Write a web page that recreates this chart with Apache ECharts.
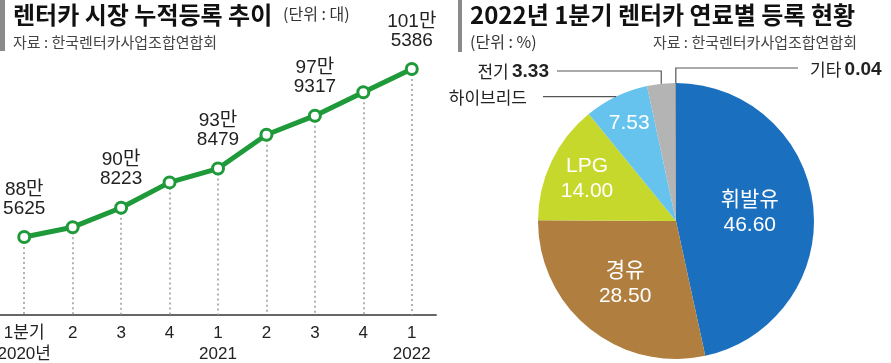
<!DOCTYPE html>
<html><head><meta charset="utf-8">
<script src="https://cdn.jsdelivr.net/npm/echarts@6/dist/echarts.min.js"></script>
<style>html,body{margin:0;padding:0;background:#fff}#c{width:891px;height:363px}</style>
</head><body><div id="c"></div>
<script>
// ---- data ----
const quarters = ['1분기\n2020년', '2', '3', '4', '1\n2021', '2', '3', '4', '1\n2022'];
const registrations = [885625, 893200, 908223, 927800, 938479, 964600, 979317, 997400, 1015386];
const labeledQuarters = [0, 2, 4, 6, 8];
const fuelNames = ['휘발유', '경유', 'LPG', '하이브리드', '전기', '기타'];
const fuelShares = [46.60, 28.50, 14.00, 7.53, 3.33, 0.04];

// ---- styles ----
const fuelColors = ['#1a6fbe', '#b07f40', '#c6d82c', '#66c3ee', '#b4b4b4', '#333333'];
const LAT = "'Liberation Sans', 'Noto Sans CJK KR', sans-serif";
const KR = "'Noto Sans CJK KR', sans-serif";
const GREEN = '#1f9a3a';
const yMin = 825380, yMax = 1022340;
const pieCenter = [676, 221];
const insideScale = [1.03, 1.12, 1.37, 1.5];

const chart = echarts.init(document.getElementById('c'), null, {renderer: 'canvas'});

const dropLines = registrations.map((v, i) => [
  {coord: [i, v]}, {coord: [i, yMin]}
]);

function manLabel(v) {
  return Math.floor(v / 10000) + '만\n' + (v % 10000);
}

const option = {
  animation: false,
  backgroundColor: '#fff',
  grid: {left: 0, right: 891 - 436, top: 60, bottom: 48, containLabel: false, outerBoundsMode: 'none'},
  xAxis: {
    type: 'category', data: quarters, boundaryGap: true,
    axisLine: {lineStyle: {color: '#666', width: 2}},
    axisTick: {show: false},
    axisLabel: {color: '#222', fontSize: 17, lineHeight: 21, fontFamily: LAT, margin: 8, interval: 0, hideOverlap: false}
  },
  yAxis: {type: 'value', min: yMin, max: yMax, show: false, splitLine: {show: false}},
  series: [
    {
      type: 'line', data: registrations, z: 3,
      lineStyle: {color: GREEN, width: 5},
      symbol: 'circle', symbolSize: 11,
      itemStyle: {color: '#fff', borderColor: GREEN, borderWidth: 3},
      label: {
        show: true, position: 'top', distance: 12,
        color: '#222', fontSize: 19, lineHeight: 19, fontFamily: LAT,
        formatter: p => labeledQuarters.includes(p.dataIndex) ? manLabel(p.value) : ''
      },
      markLine: {
        silent: true, symbol: 'none', z: 1,
        label: {show: false},
        lineStyle: {color: '#999', type: [2, 3], width: 1.5},
        data: dropLines
      }
    },
    {
      type: 'pie', center: pieCenter, radius: 138, startAngle: 90, clockwise: true,
      silent: true, avoidLabelOverlap: false,
      data: fuelNames.map((n, i) => ({
        name: n, value: fuelShares[i],
        itemStyle: {color: fuelColors[i]},
        label: {show: i < 4}
      })),
      label: {
        position: 'inside', color: '#fff', fontSize: 21, lineHeight: 25, fontFamily: LAT,
        formatter: p => p.dataIndex === 3 ? p.value.toFixed(2) : p.name + '\n' + p.value.toFixed(2)
      },
      labelLine: {show: false},
      labelLayout: function (params) {
        const k = insideScale[params.dataIndex] || 1;
        const r = params.labelRect;
        const cx = r.x + r.width / 2, cy = r.y + r.height / 2;
        return {
          x: pieCenter[0] + (cx - pieCenter[0]) * k,
          y: pieCenter[1] + (cy - pieCenter[1]) * k,
          align: 'center', verticalAlign: 'middle'
        };
      }
    },
    {
      type: 'pie', center: pieCenter, radius: 138, startAngle: 90, clockwise: true,
      silent: true, avoidLabelOverlap: false, z: 5,
      itemStyle: {color: 'rgba(0,0,0,0)'},
      data: fuelNames.map((n, i) => ({
        name: n, value: fuelShares[i],
        label: {show: i >= 3},
        labelLine: {show: i >= 3}
      })),
      label: {
        position: 'outside', color: '#222',
        formatter: p => p.dataIndex === 3 ? '{n|' + p.name + '}' : '{n|' + p.name + '} {v|' + p.value.toFixed(2) + '}',
        rich: {
          n: {fontSize: 17, fontFamily: KR, color: '#222'},
          v: {fontSize: 19, fontFamily: LAT, fontWeight: 'bold', color: '#222'}
        }
      },
      labelLine: {show: true, length: 10, length2: 10, lineStyle: {color: '#555', width: 1.2}},
      labelLayout: function (params) {
        const p0 = params.labelLinePoints ? params.labelLinePoints[0] : [pieCenter[0], pieCenter[1] - 138];
        const i = params.dataIndex;
        if (i === 3) {
          return {x: 527, y: p0[1] + 1, align: 'right', verticalAlign: 'middle',
            labelLinePoints: [p0, [p0[0] - 1, p0[1]], [543, p0[1]]]};
        }
        if (i === 4) {
          return {x: 549, y: 72, align: 'right', verticalAlign: 'middle',
            labelLinePoints: [p0, [p0[0], 71], [557, 71]]};
        }
        if (i === 5) {
          return {x: 810, y: 70, align: 'left', verticalAlign: 'middle',
            labelLinePoints: [p0, [p0[0], 68], [798, 68]]};
        }
        return {};
      }
    }
  ],
  graphic: [
    {type: 'rect', shape: {x: 0, y: 0, width: 5, height: 51}, style: {fill: '#8a8a8a'}},
    {type: 'text', x: 13, y: 15, style: {text: '렌터카 시장 누적등록 추이', font: "bold 24px 'Noto Sans CJK KR'", fill: '#111', textVerticalAlign: 'middle'}},
    {type: 'text', x: 283, y: 14, style: {text: '(단위 : 대)', font: "16px 'Noto Sans CJK KR'", fill: '#333', textVerticalAlign: 'middle'}},
    {type: 'text', x: 13, y: 42, style: {text: '자료 : 한국렌터카사업조합연합회', font: "15px 'Noto Sans CJK KR'", fill: '#444', textVerticalAlign: 'middle'}},
    {type: 'rect', shape: {x: 458, y: 0, width: 4, height: 52}, style: {fill: '#8a8a8a'}},
    {type: 'text', x: 470, y: 15, style: {text: '2022년 1분기 렌터카 연료별 등록 현황', font: "bold 24px 'Noto Sans CJK KR'", fill: '#111', textVerticalAlign: 'middle'}},
    {type: 'text', x: 470, y: 42, style: {text: '(단위 : %)', font: "16px 'Noto Sans CJK KR'", fill: '#333', textVerticalAlign: 'middle'}},
    {type: 'text', x: 857, y: 42, style: {text: '자료 : 한국렌터카사업조합연합회', font: "15px 'Noto Sans CJK KR'", fill: '#444', textAlign: 'right', textVerticalAlign: 'middle'}}
  ]
};
chart.setOption(option);
</script>
</body></html>
